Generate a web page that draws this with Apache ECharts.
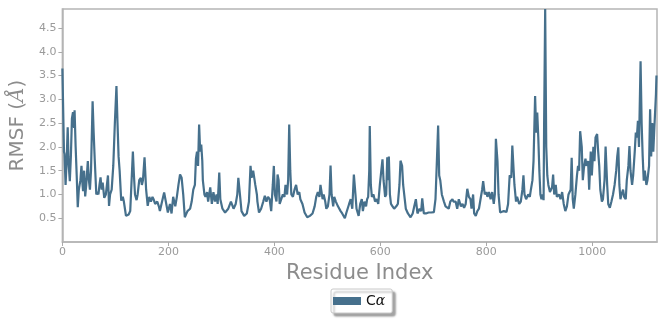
<!DOCTYPE html>
<html><head><meta charset="utf-8">
<script src="https://cdn.jsdelivr.net/npm/echarts@6/dist/echarts.min.js"></script>
<style>html,body{margin:0;padding:0;background:#fff}#c{width:671px;height:325px}</style>
</head><body><div id="c"></div>
<script>
const residues = [0,3,4,6,8,10,12,14,16,18,20,22,23,25,27,29,31,34,36,38,39,41,43,45,48,50,52,54,57,59,61,64,66,68,70,72,74,76,79,82,84,86,88,90,93,96,99,102,104,106,108,111,114,116,118,120,123,125,128,131,133,135,137,140,142,145,148,150,152,155,158,161,164,167,170,172,175,179,182,
184,187,192,195,199,203,206,209,213,216,219,222,225,228,231,236,241,244,247,250,252,254,256,258,260,262,264,265,268,270,273,275,279,282,285,288,291,293,296,298,302,307,313,318,323,327,330,332,335,338,343,348,352,355,357,360,364,367,
368,371,375,379,382,385,388,391,394,397,399,401,404,406,408,410,413,416,419,421,424,426,428,430,432,435,438,441,444,447,449,453,457,462,467,472,476,479,482,485,487,491,493,496,498,501,504,506,508,511,513,516,520,525,528,533,536,541,544,547,550,553,
555,559,562,565,567,570,573,575,577,579,580,582,584,587,590,593,596,599,602,604,606,609,611,613,615,616,618,620,623,626,630,633,636,638,641,643,646,648,652,657,661,664,667,670,674,677,679,682,686,691,696,701,704,706,709,711,713,716,720,723,726,729,732,736,738,
742,745,748,752,755,758,761,764,767,770,772,775,777,780,783,786,789,792,794,797,800,802,805,808,811,814,816,818,821,823,826,829,833,838,841,844,847,849,851,853,856,858,862,865,868,870,872,875,879,882,884,887,889,892,894,896,898,900,902,904,906,908,909,911,913,915,917,920,
924,926,928,931,933,937,940,943,946,949,952,955,959,961,963,965,968,971,973,975,977,980,982,984,987,989,992,994,997,999,1002,1004,1006,1009,1011,1013,1015,1018,1020,1023,1025,1028,1030,1033,1036,1039,1042,1045,1047,1049,1051,1053,1055,1058,1060,1063,1065,1068,1070,1072,1075,1077,1080,1082,1084,1086,1088,1091,1093,1095,1097,1099,1102,1104,1107,1109,1111,1113,1115,1117,1120,1121];
const rmsf = [3.65,1.9,1.85,1.2,1.7,2.41,1.6,1.28,1.8,2.6,2.73,2.4,2.77,2.0,1.4,0.73,1.1,1.3,1.6,1.2,1.07,1.5,0.96,1.2,1.7,1.3,1.1,1.5,2.96,2.3,1.74,1.0,1.05,1.0,1.2,1.36,1.1,1.25,0.93,1.0,1.2,1.4,0.76,1.0,1.1,1.6,2.5,3.28,2.5,1.8,1.5,0.87,0.95,0.85,0.7,0.55,0.56,0.58,0.65,1.4,1.9,1.4,1.0,0.88,1.0,1.3,1.35,1.2,1.3,1.78,1.1,0.76,0.95,0.85,0.95,0.9,0.8,0.85,0.75,
0.65,0.8,1.04,1.0,0.62,0.8,0.6,0.95,0.75,0.95,1.2,1.42,1.35,1.0,0.52,0.65,0.7,0.85,1.1,1.2,1.75,1.9,1.6,2.47,1.9,2.05,1.7,1.3,1.0,0.95,1.05,0.85,1.15,0.8,1.05,0.85,1.0,0.8,1.46,0.9,0.7,0.62,0.7,0.85,0.7,0.8,1.0,1.35,1.0,0.65,0.55,0.6,0.85,1.6,1.35,1.5,1.2,1.0,
0.85,0.62,0.7,0.85,0.97,0.85,0.95,0.9,0.65,1.2,1.6,1.0,0.85,1.42,1.3,0.8,0.9,1.0,0.95,1.2,1.0,1.3,2.47,1.5,1.0,0.95,1.1,1.2,1.0,1.05,0.9,0.8,0.62,0.52,0.55,0.6,0.75,0.95,1.05,0.95,1.2,0.9,1.0,0.85,0.7,0.75,1.0,1.61,1.0,0.75,0.95,0.85,0.75,0.65,0.6,0.5,0.62,0.8,0.9,0.7,1.42,1.0,
0.7,0.55,0.8,0.9,0.65,0.85,0.75,0.9,0.95,1.5,2.44,1.2,0.95,1.0,0.85,0.9,0.8,1.2,1.53,1.74,1.3,0.95,1.0,1.78,1.3,1.8,1.0,0.8,0.75,0.7,0.75,0.8,1.2,1.71,1.6,1.2,0.9,0.7,0.6,0.52,0.6,0.75,0.9,0.6,0.7,0.65,0.92,0.6,0.6,0.62,0.62,0.63,0.9,1.5,2.45,1.4,1.3,1.0,0.85,0.75,0.75,0.7,0.85,0.9,0.85,
0.85,0.7,0.9,0.75,0.8,0.72,0.8,1.12,0.95,0.9,0.7,1.0,0.6,0.55,0.65,0.7,0.9,1.1,1.28,1.0,1.05,0.95,1.05,0.9,1.05,0.8,1.0,2.17,1.7,1.0,0.62,0.65,0.65,0.63,0.8,1.4,1.35,2.03,1.6,1.2,0.85,0.95,0.8,0.85,1.1,1.4,1.0,0.9,1.0,0.95,1.1,1.3,1.7,3.07,2.3,2.72,2.2,1.5,1.0,0.9,1.0,0.88,2.5,4.9,2.0,1.4,1.2,1.05,
1.15,1.42,1.0,1.2,0.95,1.0,0.9,1.05,0.8,0.65,0.75,1.0,1.1,1.77,0.9,0.7,1.0,1.4,1.6,1.5,2.33,2.0,1.3,1.55,1.75,1.6,1.7,1.1,1.9,1.4,2.0,1.7,2.2,2.27,1.9,1.6,1.1,0.85,0.9,1.3,2.01,1.2,0.8,0.72,0.85,1.0,1.2,1.5,1.8,1.99,1.2,0.9,1.0,1.1,0.95,0.9,1.3,1.6,2.02,1.5,1.2,1.4,1.9,2.3,2.2,2.55,2.0,3.8,2.5,1.8,1.29,1.5,1.2,1.3,1.6,2.79,1.8,2.5,1.9,2.4,3.1,3.5];
const xTicks = [0,200,400,600,800,1000];
const yTicks = [0.5,1.0,1.5,2.0,2.5,3.0,3.5,4.0,4.5];

const chart = echarts.init(document.getElementById('c'));
const pts = residues.map((r,i)=>[r, rmsf[i]]);
const grey = '#aaaaaa';
chart.setOption({
  animation:false,
  backgroundColor:'#fff',
  grid:{left:62,right:14,top:9,bottom:83,show:true,borderColor:'#b5b5b5',borderWidth:1.5,backgroundColor:'transparent'},
  legend:{
    data:['Cα'], left:331, top:289, orient:'horizontal',
    itemWidth:28, itemHeight:8, itemGap:4, icon:'rect',
    padding:[5,7,5,2],
    backgroundColor:'#fff', borderColor:'#c8c8c8', borderWidth:1, borderRadius:2,
    shadowColor:'rgba(0,0,0,0.35)', shadowBlur:2, shadowOffsetX:3, shadowOffsetY:3,
    formatter: ()=> '{a|C}{b|α}',
    textStyle:{rich:{a:{fontFamily:'DejaVu Sans',fontSize:14,color:'#111'},b:{fontFamily:'DejaVu Serif',fontStyle:'italic',fontSize:14,color:'#111'}}}
  },
  xAxis:{
    type:'value', min:0, max:1122, interval:200,
    name:'Residue Index', nameLocation:'middle', nameGap:19,
    nameTextStyle:{fontFamily:'DejaVu Sans',fontSize:21,color:'#8c8c8c'},
    axisLine:{show:true,lineStyle:{color:'#b5b5b5',width:1.5}},
    axisTick:{show:true,length:4,lineStyle:{color:grey}},
    axisLabel:{showMaxLabel:false,fontFamily:'DejaVu Sans',fontSize:11,color:'#9a9a9a',margin:5,
      formatter:v=> xTicks.includes(v)? String(v):''},
    splitLine:{show:false}
  },
  yAxis:{
    type:'value', min:0, max:4.9, interval:0.5,
    name:'{a|RMSF (}{b|Å}{a|)}', nameLocation:'middle', nameGap:34,
    nameTextStyle:{rich:{a:{fontFamily:'DejaVu Sans',fontSize:20,color:'#8c8c8c'},b:{fontFamily:'DejaVu Serif',fontStyle:'italic',fontSize:20,color:'#8c8c8c'}}},
    axisLine:{show:true,lineStyle:{color:'#b5b5b5',width:1.5}},
    axisTick:{show:true,length:4,lineStyle:{color:grey}},
    axisLabel:{showMinLabel:false,showMaxLabel:false,fontFamily:'DejaVu Sans',fontSize:11,color:'#9a9a9a',margin:6,
      formatter:v=>{const t=yTicks.find(y=>Math.abs(y-v)<1e-6);return t!==undefined?t.toFixed(1):'';}},
    splitLine:{show:false}
  },
  series:[{
    name:'Cα', type:'line', data:pts, showSymbol:false, symbol:'none', clip:true,
    lineStyle:{color:'#46708c',width:2.2}, itemStyle:{color:'#46708c'}
  }]
});
</script></body></html>
